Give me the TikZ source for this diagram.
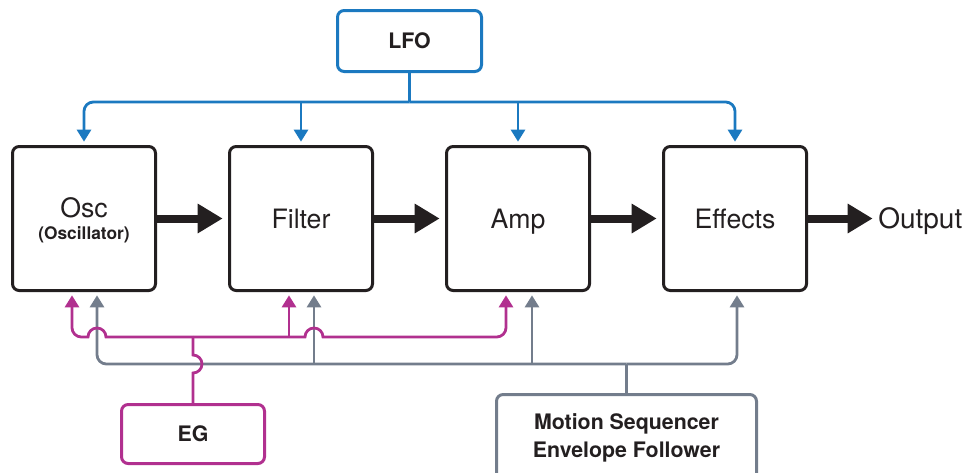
\documentclass[tikz,border=0pt]{standalone}
\usepackage{fontspec}
\setmainfont{TeX Gyre Heros}
\usepackage{xcolor}
\usetikzlibrary{arrows.meta, positioning, calc}

\definecolor{lfoblue}{HTML}{1B79C0}
\definecolor{egpink}{HTML}{B1308F}
\definecolor{msgray}{HTML}{737D8C}
\definecolor{boxblack}{HTML}{231F20}

\begin{document}
\begin{tikzpicture}[
			x=0.75pt, y=0.75pt,
			node distance=53.25pt,
			block/.style={draw=boxblack, line width=2.25pt, rounded corners=5pt, minimum width=107.25pt, minimum height=108pt, align=center, text depth=0pt, text=boxblack, font=\fontsize{20}{22}\selectfont},
			modsrc/.style={line width=2.25pt, rounded corners=5pt, minimum height=45.75pt, align=center, text=boxblack, font=\bfseries\fontsize{16}{21}\selectfont},
			signal/.style={-{Triangle[length=18.75pt, width=21pt]}, line width=6pt, draw=boxblack, shorten >=4pt},
			lfoline/.style={draw=lfoblue, line width=2.1pt, rounded corners=7pt},
			egline/.style={draw=egpink, line width=2.1pt},
			msline/.style={draw=msgray, line width=2.1pt, rounded corners=7pt},
			tip/.style={-{Triangle[length=9pt, width=10.5pt]}, shorten >=2.5pt}
			]
			
			\useasboundingbox (0,0) rectangle (968,-472);
			\clip (0,0) rectangle (968,-472);
			
			% Nodes
			\node (osc) [block] at (84,-218.5) {Osc\\[-5.5pt]{\bfseries\fontsize{13}{14}\selectfont (Oscillator)}};
			\node (filter) [block, right=of osc] {Filter};
			\node (amp) [block, right=of filter] {Amp};
			\node (effects) [block, right=of amp] {Effects};
			\node (output) [right=52.5pt of effects, inner sep=0pt, text depth=0pt, text=boxblack, font=\fontsize{21}{24}\selectfont] {Output};
			
			\coordinate (mid) at ($(filter.north)!0.5!(amp.north)$);
			\node (lfo) [modsrc, draw=lfoblue, minimum width=108pt, above=54pt of mid] {LFO};
			\node (eg) [modsrc, draw=egpink, minimum width=107.25pt, minimum height=44.25pt] at (193,-434) {EG};
			\node (motion) [modsrc, draw=msgray, minimum width=195pt, minimum height=64.5pt] at (626.5,-437.5) {Motion Sequencer\\Envelope Follower};
			
			% Taps under the blocks
			\coordinate (oscE) at ($(osc.south)+(-12,0)$);
			\coordinate (oscM) at ($(osc.south)+(13,0)$);
			\coordinate (filterE) at ($(filter.south)+(-12,0)$);
			\coordinate (filterM) at ($(filter.south)+(13,0)$);
			\coordinate (ampE) at ($(amp.south)+(-12,0)$);
			\coordinate (ampM) at ($(amp.south)+(14,0)$);
			\coordinate (effectsM) at ($(effects.south)+(2,0)$);
			
			% Signal path
			\draw [signal] (osc) -- (filter);
			\draw [signal] (filter) -- (amp);
			\draw [signal] (amp) -- (effects);
			\draw [signal] (effects) -- (output);
			
			% LFO
			\draw [lfoline] (lfo.south) -- ++(0,-29) coordinate (lfobus);
			\draw [lfoline, tip] (lfobus) -| (osc.north);
			\draw [lfoline, tip] (lfobus) -| (effects.north);
			\draw [lfoline, tip] (filter.north |- lfobus) -- (filter.north);
			\draw [lfoline, tip] (amp.north |- lfobus) -- (amp.north);
			
			% Motion Sequencer / Envelope Follower
			\draw [msline] (motion.north) -- ++(0,29) coordinate (msbus);
			\draw [msline, tip] (msbus) -| (oscM);
			\draw [msline, tip] (msbus) -| (effectsM);
			\draw [msline, tip] (filterM |- msbus) -- (filterM);
			\draw [msline, tip] (ampM |- msbus) -- (ampM);
			
			% EG
			\draw [egline] (eg.north) -- ($(eg.north |- msbus)+(0,-9)$) arc[start angle=-90, end angle=90, radius=9] -- ++(0,18) coordinate (egbus);
			\draw [egline, tip] (egbus) -- ($(oscM |- egbus)+(9,0)$) arc[start angle=0, end angle=180, radius=9] [rounded corners=7pt] -- (oscE |- egbus) -- (oscE);
			\draw [egline, tip] (egbus) -- ($(filterM |- egbus)+(-9,0)$) arc[start angle=180, end angle=0, radius=9] [rounded corners=7pt] -- (ampE |- egbus) -- (ampE);
			\draw [egline, tip] (filterE |- egbus) -- (filterE);
			
		\end{tikzpicture}
\end{document}
